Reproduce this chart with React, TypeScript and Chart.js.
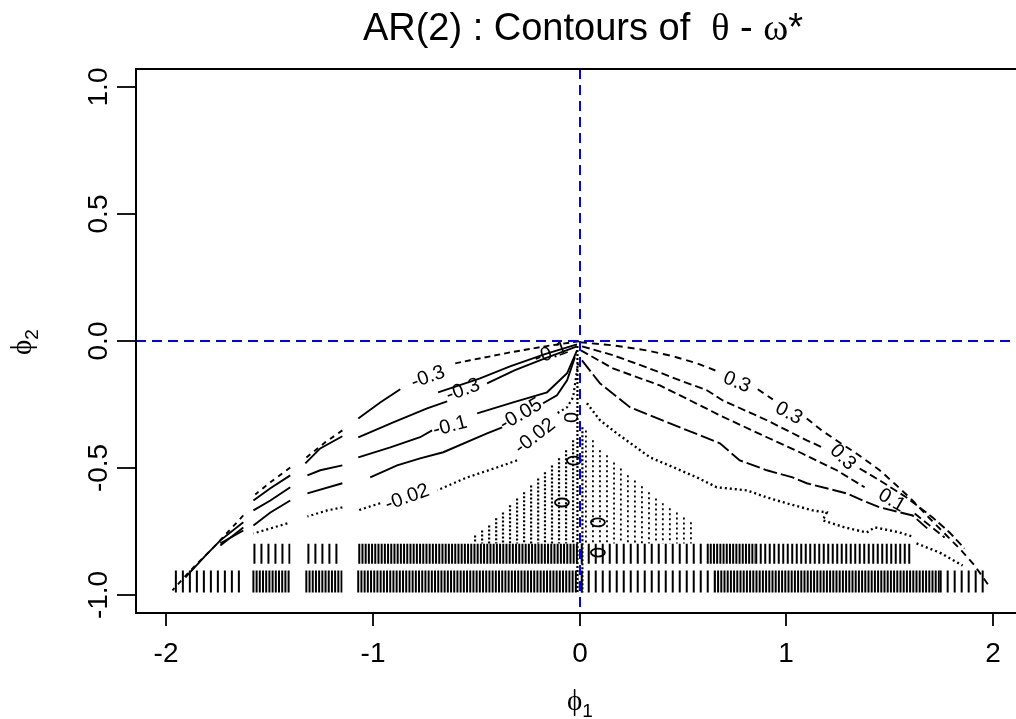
import React, { useEffect, useRef } from "react";
import { Chart, registerables } from "chart.js";

Chart.register(...registerables);

type Pt = [number, number] | null;

// ---------- axes ----------
const xRange: [number, number] = [-2.145, 2.145];
const yRange: [number, number] = [-1.071, 1.071];
const xTickValues = [-2, -1, 0, 1, 2];
const xTickLabels = ["-2", "-1", "0", "1", "2"];
const yTickValues = [-1, -0.5, 0, 0.5, 1];
const yTickLabels = ["-1.0", "-0.5", "0.0", "0.5", "1.0"];
const refLinesX = [0];
const refLinesY = [0];

// ---------- contour lines, left half (negative levels) ----------
const negOuterNear: Pt[] = [
  [-0.002, -0.001], [-0.167, -0.021], [-0.336, -0.045], [-0.529, -0.076], [-0.601, -0.088],
];
const negOuterMid: Pt[] = [
  [-0.867, -0.19], [-0.964, -0.242], [-1.07, -0.305],
];
const negOuterFar: Pt[] = [
  [-1.147, -0.352], [-1.23, -0.399], [-1.326, -0.462], null,
  [-1.399, -0.498], [-1.495, -0.556], [-1.568, -0.604], null,
  [-1.626, -0.687], [-1.761, -0.805], [-1.882, -0.904], [-1.969, -0.982],
];
const negSliver: Pt[] = [
  [-0.012, -0.013], [-0.167, -0.052], [-0.336, -0.1], [-0.481, -0.147], [-0.684, -0.202],
];
const neg03: Pt[] = [
  [-0.012, -0.021], [-0.167, -0.068], [-0.312, -0.115], [-0.447, -0.167], null,
  [-0.64, -0.238], [-0.737, -0.265], [-0.901, -0.32], [-1.07, -0.379], null,
  [-1.147, -0.375], [-1.254, -0.423], [-1.326, -0.482], null,
  [-1.399, -0.529], [-1.495, -0.58], [-1.577, -0.628], null,
  [-1.626, -0.714], [-1.737, -0.785], [-1.809, -0.845], [-1.906, -0.931],
];
const neg01: Pt[] = [
  [-0.012, -0.037], [-0.06, -0.127], [-0.157, -0.202], [-0.321, -0.242], [-0.495, -0.285], null,
  [-0.713, -0.352], [-0.771, -0.379], [-0.915, -0.419], [-1.07, -0.458], null,
  [-1.147, -0.49], [-1.254, -0.509], [-1.316, -0.529], null,
  [-1.399, -0.576], [-1.495, -0.628], [-1.577, -0.667], null,
  [-1.626, -0.734], [-1.737, -0.805],
];
const neg005: Pt[] = [
  [-0.022, -0.064], [-0.06, -0.155], [-0.109, -0.214], [-0.176, -0.245], null,
  [-0.374, -0.34], [-0.447, -0.364], [-0.659, -0.438], [-0.771, -0.462], [-0.882, -0.49], [-1.012, -0.537], null,
  [-1.147, -0.56], [-1.316, -0.6], null,
  [-1.399, -0.628], [-1.495, -0.675], [-1.577, -0.726], null,
  [-1.626, -0.746], [-1.737, -0.797],
];
const neg002: Pt[] = [
  [-0.007, -0.088], [-0.031, -0.222], [-0.06, -0.261], [-0.109, -0.285], null,
  [-0.302, -0.47], [-0.399, -0.498], [-0.543, -0.537], [-0.688, -0.588], null,
  [-0.964, -0.639], [-1.027, -0.655], [-1.07, -0.667], null,
  [-1.147, -0.655], [-1.22, -0.667], [-1.316, -0.691], null,
  [-1.413, -0.718], [-1.577, -0.758],
];

// ---------- contour lines, right half (positive levels) ----------
const posOuter: Pt[] = [
  [0.002, -0.005], [0.162, -0.017], [0.326, -0.037], [0.452, -0.06], [0.568, -0.088], [0.679, -0.123], null,
  [0.862, -0.19], [0.935, -0.23], null,
  [1.099, -0.305], [1.171, -0.352], [1.249, -0.395], [1.331, -0.438], [1.452, -0.509], [1.534, -0.569],
  [1.611, -0.628], [1.693, -0.698], [1.766, -0.758], [1.838, -0.817], [1.911, -0.884], [1.983, -0.967],
];
const pos03: Pt[] = [
  [0.012, -0.021], [0.162, -0.056], [0.326, -0.104], [0.486, -0.155], [0.616, -0.194], [0.693, -0.234],
  [0.906, -0.312], [1.099, -0.391], [1.186, -0.423], null,
  [1.355, -0.502], [1.452, -0.549], [1.582, -0.616], [1.708, -0.695], [1.79, -0.754], [1.862, -0.817],
];
const pos01: Pt[] = [
  [0.007, -0.037], [0.162, -0.108], [0.389, -0.175], [0.582, -0.253], [0.679, -0.293], [0.906, -0.379],
  [1.065, -0.438], [1.244, -0.509], [1.379, -0.576], null,
  [1.621, -0.679], [1.693, -0.726], [1.766, -0.774],
];
const pos005: Pt[] = [
  [0.012, -0.076], [0.099, -0.167], [0.244, -0.261], [0.486, -0.34], [0.679, -0.403], [0.775, -0.47],
  [0.906, -0.509], [1.031, -0.537], [1.099, -0.56], [1.292, -0.6], [1.37, -0.628], [1.452, -0.655],
  [1.611, -0.687], [1.693, -0.746],
];
const pos002: Pt[] = [
  [0.036, -0.245], [0.099, -0.312], [0.181, -0.364], [0.341, -0.458], [0.568, -0.537], [0.664, -0.576],
  [0.809, -0.588], [0.906, -0.616], [1.002, -0.639], [1.128, -0.667], [1.196, -0.675], [1.176, -0.706],
  [1.283, -0.734], [1.389, -0.754], [1.428, -0.734], [1.548, -0.754], [1.611, -0.77], null,
  [1.63, -0.797], [1.742, -0.833], [1.853, -0.884],
];

// ---------- noisy near-zero region ----------
const noiseLeftX = [-0.505, -0.471, -0.437, -0.403, -0.37, -0.336, -0.302, -0.268, -0.234, -0.2, -0.167, -0.133, -0.099, -0.065, -0.031];
const noiseLeftTop = [-0.766, -0.746, -0.726, -0.698, -0.675, -0.647, -0.62, -0.596, -0.569, -0.541, -0.517, -0.49, -0.462, -0.43, -0.391];
const noiseRightX = [0.031, 0.065, 0.099, 0.133, 0.167, 0.2, 0.234, 0.268, 0.302, 0.336, 0.37, 0.403, 0.437, 0.471, 0.505, 0.539];
const noiseRightTop = [-0.352, -0.391, -0.43, -0.45, -0.478, -0.502, -0.529, -0.549, -0.572, -0.596, -0.62, -0.639, -0.659, -0.675, -0.695, -0.714];
const noiseBottom = -0.797;
const centerColumnsX = [-0.01, 0.014];
const centerColumnsTop = [-0.02, -0.34];
const centerColumnsBottom = -0.99;

// dense bands of tiny contour pieces: [phi1 start, phi1 end]
const band1Level = -0.838;
const band2Level = -0.947;
const band1Dense: [number, number][] = [[-1.07, -0.006], [0.63, 0.85]];
const band1Medium: [number, number][] = [[0.85, 1.611]];
const band1Sparse: [number, number][] = [[-1.577, -1.399], [-1.316, -1.147], [0.006, 0.63]];
const band2Dense: [number, number][] = [[-1.582, -1.399], [-1.326, -1.147], [-1.075, -0.006], [0.65, 1.742]];
const band2Sparse: [number, number][] = [[-1.957, -1.64], [0.006, 0.65], [1.742, 1.969]];

// small closed loops at level 0
const smallLoops: [number, number][] = [[-0.027, -0.471], [0.089, -0.714], [0.089, -0.833], [-0.085, -0.636]];

// contour labels (text, phi1, phi2, angle in degrees)
const contourLabels = [
  { text: "-0.3", x: -0.732, y: -0.143, angle: -20 },
  { text: "-0.3", x: -0.563, y: -0.194, angle: -20 },
  { text: "-0.1", x: -0.626, y: -0.336, angle: -15 },
  { text: "-0.05", x: -0.283, y: -0.289, angle: -30 },
  { text: "-0.02", x: -0.215, y: -0.375, angle: -38 },
  { text: "-0.1", x: -0.138, y: -0.048, angle: -20 },
  { text: "-0.02", x: -0.833, y: -0.616, angle: -20 },
  { text: "0", x: -0.036, y: -0.301, angle: -90 },
  { text: "0.3", x: 0.761, y: -0.163, angle: 22 },
  { text: "0.3", x: 1.012, y: -0.285, angle: 28 },
  { text: "0.3", x: 1.273, y: -0.458, angle: 45 },
  { text: "0.1", x: 1.51, y: -0.628, angle: 30 },
];

const SANS = '"Liberation Sans", Arial, Helvetica, sans-serif';
const SERIF = '"Liberation Serif", "DejaVu Serif", serif';

const toPts = (arr: Pt[]) => arr.map((p) => (p ? { x: p[0], y: p[1] } : { x: 0, y: null }));

const lineDs = (arr: Pt[], extra: any = {}) => ({
  data: toPts(arr),
  borderColor: "#000",
  borderWidth: 1.9,
  pointRadius: 0,
  fill: false,
  spanGaps: false,
  tension: 0,
  ...extra,
});

const bandPts = (pieces: [number, number][], level: number): Pt[] => {
  const out: Pt[] = [];
  pieces.forEach(([s, e]) => {
    out.push([s, level], [e, level], null);
  });
  return out;
};

const columnPts = (xs: number[], tops: number[], bottom: number): Pt[] => {
  const out: Pt[] = [];
  xs.forEach((x, i) => {
    out.push([x, tops[i]], [x, bottom], null);
  });
  return out;
};

const decor = {
  id: "rdecor",
  afterDatasetsDraw(chart: any) {
    const { ctx, chartArea: a, scales } = chart;
    const xs = scales.x;
    const ys = scales.y;
    ctx.save();

    // small loops
    ctx.strokeStyle = "#000";
    ctx.lineWidth = 1.8;
    ctx.setLineDash([]);
    smallLoops.forEach(([x, y]) => {
      ctx.beginPath();
      ctx.ellipse(xs.getPixelForValue(x), ys.getPixelForValue(y), 7, 4, 0, 0, Math.PI * 2);
      ctx.stroke();
    });

    // contour labels
    ctx.fillStyle = "#000";
    ctx.font = `20px ${SANS}`;
    ctx.textAlign = "center";
    ctx.textBaseline = "middle";
    contourLabels.forEach((l) => {
      ctx.save();
      ctx.translate(xs.getPixelForValue(l.x), ys.getPixelForValue(l.y));
      ctx.rotate((l.angle * Math.PI) / 180);
      ctx.fillText(l.text, 0, 0);
      ctx.restore();
    });

    // reference lines
    ctx.save();
    ctx.beginPath();
    ctx.rect(a.left, a.top, a.right - a.left, a.bottom - a.top);
    ctx.clip();
    ctx.strokeStyle = "#0000ff";
    ctx.lineWidth = 2;
    ctx.setLineDash([10, 6]);
    refLinesY.forEach((v) => {
      const py = Math.round(ys.getPixelForValue(v));
      ctx.beginPath();
      ctx.moveTo(a.left, py);
      ctx.lineTo(a.right, py);
      ctx.stroke();
    });
    refLinesX.forEach((v) => {
      const px = Math.round(xs.getPixelForValue(v));
      ctx.beginPath();
      ctx.moveTo(px, a.top);
      ctx.lineTo(px, a.bottom);
      ctx.stroke();
    });
    ctx.restore();

    // box
    ctx.setLineDash([]);
    ctx.strokeStyle = "#000";
    ctx.lineWidth = 2;
    ctx.strokeRect(a.left, a.top, a.right - a.left, a.bottom - a.top);

    // ticks
    ctx.lineWidth = 1.8;
    ctx.font = `28px ${SANS}`;
    ctx.fillStyle = "#000";
    ctx.textAlign = "center";
    ctx.textBaseline = "alphabetic";
    xTickValues.forEach((v, i) => {
      const px = Math.round(xs.getPixelForValue(v));
      ctx.beginPath();
      ctx.moveTo(px, a.bottom);
      ctx.lineTo(px, a.bottom + 13);
      ctx.stroke();
      ctx.fillText(xTickLabels[i], px, 662);
    });
    yTickValues.forEach((v, i) => {
      const py = Math.round(ys.getPixelForValue(v));
      ctx.beginPath();
      ctx.moveTo(a.left - 19, py);
      ctx.lineTo(a.left, py);
      ctx.stroke();
      ctx.save();
      ctx.translate(97, py);
      ctx.rotate(-Math.PI / 2);
      ctx.fillText(yTickLabels[i], 0, 10);
      ctx.restore();
    });

    // title
    const tSize = 38;
    const pieces = [
      { t: "AR(2) : Contours of  ", f: `${tSize}px ${SANS}` },
      { t: "\u03B8", f: `${tSize}px ${SERIF}` },
      { t: " - ", f: `${tSize}px ${SANS}` },
      { t: "\u03C9", f: `${tSize}px ${SERIF}` },
      { t: "*", f: `${tSize}px ${SANS}` },
    ];
    let total = 0;
    pieces.forEach((p) => {
      ctx.font = p.f;
      total += ctx.measureText(p.t).width;
    });
    let cx = 583 - total / 2;
    ctx.textAlign = "left";
    pieces.forEach((p) => {
      ctx.font = p.f;
      ctx.fillText(p.t, cx, 40);
      cx += ctx.measureText(p.t).width;
    });

    // axis titles
    const drawPhi = (sub: string) => {
      ctx.font = `29px ${SERIF}`;
      const w1 = ctx.measureText("\u03D5").width;
      ctx.font = `19px ${SANS}`;
      const w2 = ctx.measureText(sub).width;
      const start = -(w1 + w2) / 2;
      ctx.font = `29px ${SERIF}`;
      ctx.textAlign = "left";
      ctx.fillText("\u03D5", start, 0);
      ctx.font = `19px ${SANS}`;
      ctx.fillText(sub, start + w1, 7);
    };
    ctx.save();
    ctx.translate(580, 710);
    drawPhi("1");
    ctx.restore();
    ctx.save();
    ctx.translate(31, 342);
    ctx.rotate(-Math.PI / 2);
    drawPhi("2");
    ctx.restore();

    ctx.restore();
  },
};

export default function App() {
  const ref = useRef<HTMLCanvasElement | null>(null);
  useEffect(() => {
    const canvas = ref.current;
    if (!canvas) return;
    const datasets: any[] = [
      lineDs(negOuterNear, { borderDash: [6, 4] }),
      lineDs(negOuterMid),
      lineDs(negOuterFar, { borderDash: [5, 5] }),
      lineDs(negSliver),
      lineDs(neg03),
      lineDs(neg01),
      lineDs(neg005),
      lineDs(neg002, { borderDash: [2, 3], borderWidth: 2.2 }),
      lineDs(posOuter, { borderDash: [7, 5] }),
      lineDs(pos03, { borderDash: [8, 4] }),
      lineDs(pos01, { borderDash: [8, 4] }),
      lineDs(pos005, { borderDash: [14, 4] }),
      lineDs(pos002, { borderDash: [2, 3], borderWidth: 2.4 }),
      lineDs(columnPts(noiseLeftX, noiseLeftTop, noiseBottom), { borderDash: [2, 2], borderWidth: 2.2 }),
      lineDs(columnPts(noiseRightX, noiseRightTop, noiseBottom), { borderDash: [2, 3], borderWidth: 1.8 }),
      lineDs(columnPts(centerColumnsX, centerColumnsTop, centerColumnsBottom), { borderDash: [2, 2], borderWidth: 2.2 }),
      lineDs(bandPts(band1Dense, band1Level), { borderWidth: 20, borderDash: [2, 1.2], borderCapStyle: "butt" }),
      lineDs(bandPts(band1Medium, band1Level), { borderWidth: 20, borderDash: [2, 2.5], borderCapStyle: "butt" }),
      lineDs(bandPts(band1Sparse, band1Level), { borderWidth: 20, borderDash: [2, 5], borderCapStyle: "butt" }),
      lineDs(bandPts(band2Dense, band2Level), { borderWidth: 22, borderDash: [2, 1.2], borderCapStyle: "butt" }),
      lineDs(bandPts(band2Sparse, band2Level), { borderWidth: 22, borderDash: [2, 5], borderCapStyle: "butt" }),
    ];
    const chart = new Chart(canvas, {
      type: "line",
      data: { datasets },
      options: {
        animation: false,
        responsive: false,
        devicePixelRatio: 1,
        events: [],
        layout: { padding: { left: 136, top: 69, right: 17, bottom: 106 } },
        scales: {
          x: { type: "linear", min: xRange[0], max: xRange[1], display: false },
          y: { type: "linear", min: yRange[0], max: yRange[1], display: false },
        },
        plugins: {
          legend: { display: false },
          tooltip: { enabled: false },
          title: { display: false },
        },
        elements: { point: { radius: 0 }, line: { tension: 0 } },
      } as any,
      plugins: [decor],
    });
    return () => chart.destroy();
  }, []);

  return (
    <div
      style={{
        position: "fixed",
        left: 0,
        top: 0,
        width: 1016,
        height: 719,
        overflow: "hidden",
        background: "#fff",
      }}
    >
      <canvas ref={ref} width={1040} height={719} style={{ display: "block", width: 1040, height: 719 }} />
    </div>
  );
}
